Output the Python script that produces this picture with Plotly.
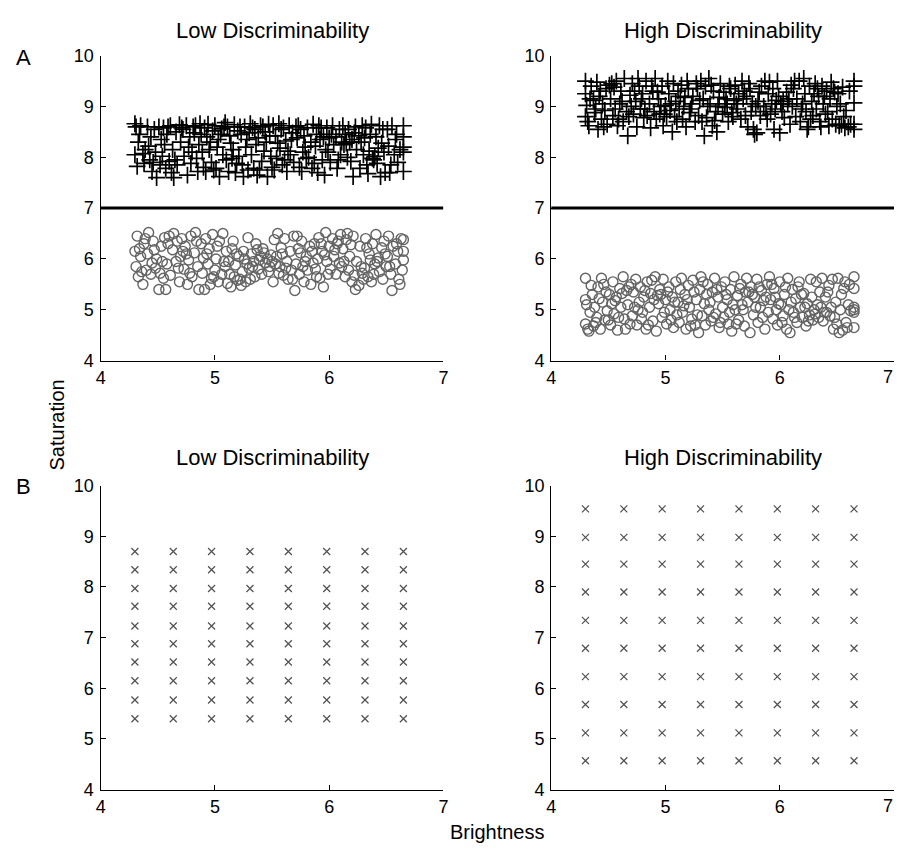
import itertools
import plotly.graph_objects as go

# ---------------- data ----------------
x_ticks = [4, 5, 6, 7]
y_ticks = [4, 5, 6, 7, 8, 9, 10]
x_range = [4, 7]
y_range = [4, 10]
category_boundary = 7.0

titles = ["Low Discriminability", "High Discriminability",
          "Low Discriminability", "High Discriminability"]
panel_labels = ["A", "B"]
x_title = "Brightness"
y_title = "Saturation"

# Panel A, low discriminability: category "+" (high saturation)
low_plus_x = [
    4.30, 4.31, 4.30, 4.32, 4.35, 4.37, 4.38, 4.41, 4.42, 4.43, 4.45, 4.47, 4.48, 4.49, 4.33, 4.44,
    4.51, 4.52, 4.54, 4.55, 4.57, 4.58, 4.60, 4.61, 4.63, 4.64, 4.66, 4.67, 4.69, 4.70, 4.56, 4.62,
    4.72, 4.73, 4.75, 4.76, 4.78, 4.79, 4.81, 4.82, 4.84, 4.85, 4.87, 4.88, 4.90, 4.80, 4.86,
    4.91, 4.92, 4.94, 4.95, 4.97, 4.98, 5.00, 5.01, 5.03, 5.04, 5.06, 5.07, 5.09, 5.10, 4.96, 5.05,
    5.11, 5.12, 5.14, 5.15, 5.17, 5.18, 5.20, 5.21, 5.23, 5.24, 5.26, 5.27, 5.29, 5.30, 5.16, 5.25,
    5.31, 5.32, 5.34, 5.35, 5.37, 5.38, 5.40, 5.41, 5.43, 5.44, 5.46, 5.47, 5.49, 5.50, 5.36, 5.45,
    5.51, 5.53, 5.54, 5.56, 5.57, 5.59, 5.60, 5.62, 5.63, 5.65, 5.66, 5.68, 5.69, 5.55, 5.64,
    5.71, 5.72, 5.74, 5.75, 5.76, 5.78, 5.79, 5.81, 5.82, 5.84, 5.86, 5.87, 5.89, 5.90, 5.77,
    5.91, 5.92, 5.94, 5.95, 5.97, 5.98, 6.00, 6.01, 6.03, 6.04, 6.06, 6.07, 6.09, 6.10, 5.96,
    6.11, 6.12, 6.13, 6.15, 6.16, 6.17, 6.19, 6.20, 6.21, 6.23, 6.24, 6.26, 6.27, 6.29, 6.30,
    6.31, 6.32, 6.34, 6.35, 6.37, 6.38, 6.39, 6.40, 6.41, 6.42, 6.44, 6.45, 6.46, 6.48, 6.49, 6.36,
    6.51, 6.52, 6.54, 6.55, 6.57, 6.58, 6.60, 6.62, 6.65, 6.65, 6.65, 6.65, 6.65,
    4.34, 4.39, 4.46, 4.53, 4.59, 4.65, 4.71, 4.77, 4.83, 4.89, 4.93, 4.99, 5.02, 5.08, 5.13,
    5.19, 5.22, 5.28, 5.33, 5.39, 5.42, 5.48, 5.52, 5.58, 5.61, 5.67, 5.73, 5.80, 5.85, 5.88,
    5.93, 5.99, 6.02, 6.08, 6.14, 6.18, 6.22, 6.28, 6.33, 6.43, 6.47, 6.53, 6.59,
]
low_plus_y = [
    8.66, 8.60, 8.05, 7.82, 8.62, 8.07, 7.88, 8.60, 8.22, 7.95, 7.72, 8.55, 8.10, 7.60, 8.30, 8.40,
    8.60, 7.85, 8.02, 8.58, 7.78, 8.45, 7.92, 8.62, 8.15, 7.60, 8.50, 7.85, 8.64, 8.30, 8.25, 7.70,
    8.55, 8.02, 8.62, 7.65, 8.40, 7.88, 8.60, 8.48, 7.98, 7.72, 8.66, 8.45, 7.80, 8.10, 8.25,
    8.58, 7.72, 8.65, 8.15, 7.90, 8.52, 8.62, 7.78, 8.35, 7.62, 8.56, 8.05, 8.68, 7.95, 8.30, 8.45,
    8.60, 7.72, 8.28, 7.98, 8.64, 7.70, 8.52, 8.02, 8.45, 7.85, 8.60, 8.20, 7.75, 8.48, 8.15, 7.62,
    8.66, 8.05, 7.78, 8.55, 7.65, 8.38, 8.62, 7.92, 8.12, 8.50, 7.62, 8.65, 8.02, 7.80, 8.25, 8.30,
    8.62, 8.42, 7.98, 8.66, 8.18, 7.85, 8.58, 8.32, 7.72, 8.62, 8.05, 8.48, 7.90, 8.28, 8.12,
    8.60, 8.38, 7.80, 8.55, 7.72, 8.42, 8.20, 8.58, 8.00, 8.30, 8.65, 7.88, 8.45, 7.70, 8.10,
    8.62, 8.35, 7.95, 8.40, 8.15, 8.58, 8.38, 7.90, 8.62, 8.25, 8.40, 7.78, 8.55, 8.05, 7.65,
    8.30, 8.62, 8.25, 8.28, 8.00, 8.55, 7.92, 8.35, 7.62, 8.60, 8.15, 8.42, 7.78, 8.62, 8.05,
    8.38, 8.58, 7.68, 8.12, 8.65, 7.98, 7.95, 8.02, 8.40, 7.88, 8.62, 7.62, 8.28, 8.10, 7.70, 8.45,
    8.55, 8.22, 7.85, 8.62, 8.05, 8.35, 7.90, 8.15, 8.62, 8.40, 8.20, 8.10, 7.72,
    8.45, 8.15, 7.90, 8.35, 8.60, 7.95, 8.58, 8.20, 8.62, 8.10, 8.40, 7.75, 8.20, 8.60, 8.42,
    7.88, 8.60, 8.35, 8.58, 7.75, 8.60, 8.42, 7.75, 8.55, 7.95, 8.35, 8.62, 7.98, 7.78, 8.22,
    8.58, 8.10, 8.45, 7.95, 8.45, 8.30, 8.48, 8.30, 7.85, 8.18, 8.55, 7.70, 8.45,
]

# Panel A, low discriminability: category "o" (low saturation)
low_circ_x = [
    4.30, 4.31, 4.32, 4.33, 4.34, 4.35, 4.37, 4.38, 4.40, 4.41, 4.42, 4.44, 4.45, 4.46, 4.48, 4.49,
    4.51, 4.52, 4.53, 4.55, 4.57, 4.58, 4.60, 4.61, 4.63, 4.64, 4.66, 4.67, 4.69, 4.70, 4.56,
    4.71, 4.73, 4.74, 4.76, 4.77, 4.79, 4.80, 4.82, 4.83, 4.85, 4.86, 4.88, 4.89, 4.90, 4.75,
    4.91, 4.92, 4.94, 4.95, 4.97, 4.98, 5.00, 5.01, 5.03, 5.04, 5.06, 5.07, 5.09, 5.10, 4.96,
    5.11, 5.12, 5.14, 5.15, 5.17, 5.18, 5.20, 5.21, 5.23, 5.24, 5.26, 5.27, 5.29, 5.30, 5.16, 5.25,
    5.31, 5.32, 5.34, 5.35, 5.37, 5.38, 5.40, 5.41, 5.43, 5.44, 5.46, 5.47, 5.49, 5.50, 5.36,
    5.51, 5.52, 5.54, 5.55, 5.57, 5.58, 5.60, 5.61, 5.63, 5.64, 5.66, 5.67, 5.69, 5.70, 5.56,
    5.71, 5.72, 5.74, 5.75, 5.77, 5.78, 5.80, 5.81, 5.83, 5.84, 5.86, 5.87, 5.89, 5.90, 5.76,
    5.91, 5.92, 5.94, 5.95, 5.97, 5.98, 6.00, 6.01, 6.03, 6.04, 6.06, 6.07, 6.09, 6.10, 5.96,
    6.11, 6.12, 6.14, 6.15, 6.17, 6.18, 6.20, 6.21, 6.23, 6.24, 6.26, 6.27, 6.29, 6.30, 6.16,
    6.31, 6.32, 6.34, 6.35, 6.37, 6.38, 6.40, 6.41, 6.43, 6.44, 6.46, 6.47, 6.49, 6.50, 6.36,
    6.51, 6.52, 6.54, 6.55, 6.56, 6.58, 6.60, 6.61, 6.63, 6.64, 6.65, 6.65, 6.65,
    4.36, 4.39, 4.47, 4.54, 4.59, 4.68, 4.72, 4.78, 4.84, 4.93, 4.99, 5.02, 5.08, 5.13, 5.19,
    5.22, 5.28, 5.33, 5.39, 5.42, 5.48, 5.53, 5.59, 5.62, 5.68, 5.73, 5.79, 5.85, 5.88, 5.93,
    5.99, 6.05, 6.08, 6.13, 6.19, 6.22, 6.28, 6.33, 6.39, 6.42, 6.48, 6.53, 6.59, 6.62,
]
low_circ_y = [
    6.15, 5.85, 6.45, 5.65, 6.20, 6.05, 5.50, 6.30, 5.78, 6.10, 6.52, 5.70, 5.92, 6.35, 5.82, 6.00,
    5.40, 5.72, 6.25, 5.62, 5.40, 5.90, 6.45, 5.68, 6.18, 6.50, 5.95, 6.35, 5.55, 6.05, 6.42,
    6.40, 5.80, 6.25, 5.50, 5.98, 6.45, 5.65, 6.12, 6.52, 5.85, 5.40, 6.30, 5.72, 6.02, 6.10,
    5.40, 6.40, 5.90, 6.20, 5.62, 6.48, 5.78, 6.00, 5.55, 6.35, 5.70, 6.50, 5.85, 6.15, 5.50,
    5.52, 5.95, 5.45, 6.20, 5.65, 5.88, 5.58, 6.05, 5.48, 5.75, 6.00, 5.55, 6.42, 5.82, 6.35, 6.15,
    5.60, 6.10, 5.95, 5.65, 6.18, 5.80, 6.05, 5.70, 6.12, 5.92, 6.00, 5.75, 6.08, 5.95, 6.30,
    5.55, 6.38, 6.05, 6.50, 5.85, 6.22, 5.68, 6.40, 5.95, 5.60, 6.15, 5.78, 6.45, 5.38, 5.72,
    5.90, 6.45, 5.70, 6.12, 5.85, 5.55, 6.05, 5.78, 6.25, 5.50, 5.92, 6.30, 5.65, 6.00, 6.35,
    6.42, 5.62, 6.15, 5.45, 6.52, 5.95, 6.25, 5.80, 6.40, 6.05, 5.70, 6.30, 5.92, 6.48, 6.08,
    5.85, 6.20, 5.65, 6.38, 5.78, 6.05, 5.55, 6.45, 5.40, 5.95, 5.48, 6.25, 5.72, 5.60, 6.50,
    5.82, 6.40, 5.65, 6.10, 5.55, 6.30, 5.90, 6.48, 6.02, 5.75, 6.22, 5.60, 6.10, 5.85, 5.98,
    6.05, 6.45, 5.70, 5.38, 6.25, 5.90, 6.15, 5.60, 6.40, 5.78, 6.15, 5.98, 6.38,
    5.75, 6.40, 6.18, 5.95, 6.30, 5.82, 6.15, 5.72, 6.35, 6.10, 5.65, 6.25, 5.95, 5.70, 6.10,
    5.60, 5.90, 5.85, 5.98, 6.20, 5.85, 5.90, 6.10, 5.82, 5.60, 6.20, 5.95, 6.15, 5.80, 6.30,
    5.70, 6.18, 6.35, 5.95, 6.28, 5.68, 5.85, 6.22, 5.70, 5.95, 6.35, 5.85, 6.30, 5.50,
]

# Panel A, high discriminability: category "+"
high_plus_x = [
    4.30, 4.30, 4.31, 4.30, 4.32, 4.33, 4.35, 4.37, 4.38, 4.40, 4.41, 4.43, 4.44, 4.45, 4.47, 4.48, 4.49,
    4.51, 4.52, 4.54, 4.55, 4.57, 4.58, 4.60, 4.61, 4.63, 4.64, 4.66, 4.67, 4.69, 4.70, 4.56,
    4.71, 4.72, 4.74, 4.75, 4.77, 4.78, 4.80, 4.81, 4.83, 4.84, 4.86, 4.87, 4.89, 4.90, 4.76,
    4.91, 4.92, 4.94, 4.95, 4.97, 4.98, 5.00, 5.01, 5.03, 5.04, 5.06, 5.07, 5.09, 5.10, 4.96,
    5.11, 5.12, 5.14, 5.15, 5.17, 5.18, 5.20, 5.21, 5.23, 5.24, 5.26, 5.27, 5.29, 5.30, 5.16,
    5.31, 5.32, 5.34, 5.35, 5.36, 5.38, 5.39, 5.41, 5.42, 5.44, 5.45, 5.47, 5.48, 5.50, 5.37,
    5.51, 5.52, 5.54, 5.55, 5.57, 5.58, 5.60, 5.61, 5.63, 5.64, 5.66, 5.67, 5.69, 5.70, 5.56,
    5.71, 5.72, 5.74, 5.75, 5.77, 5.78, 5.80, 5.81, 5.83, 5.84, 5.86, 5.87, 5.89, 5.90, 5.76,
    5.91, 5.92, 5.94, 5.95, 5.97, 5.98, 6.00, 6.01, 6.03, 6.04, 6.06, 6.07, 6.09, 6.10, 5.96,
    6.11, 6.12, 6.14, 6.15, 6.17, 6.18, 6.20, 6.21, 6.23, 6.24, 6.25, 6.26, 6.28, 6.29, 6.30,
    6.31, 6.32, 6.34, 6.35, 6.37, 6.38, 6.40, 6.41, 6.43, 6.44, 6.46, 6.47, 6.49, 6.50, 6.36,
    6.51, 6.52, 6.54, 6.55, 6.57, 6.58, 6.60, 6.62, 6.65, 6.65, 6.65, 6.65, 6.65,
    4.34, 4.39, 4.42, 4.46, 4.53, 4.59, 4.62, 4.68, 4.73, 4.79, 4.82, 4.88, 4.93, 4.99, 5.02,
    5.05, 5.08, 5.13, 5.19, 5.22, 5.28, 5.33, 5.40, 5.43, 5.46, 5.53, 5.59, 5.62, 5.68, 5.73,
    5.79, 5.82, 5.88, 5.93, 5.99, 6.02, 6.08, 6.13, 6.19, 6.22, 6.27, 6.33, 6.39, 6.42, 6.45,
    6.48, 6.53, 6.56, 6.61,
]
high_plus_y = [
    9.50, 9.25, 9.02, 8.80, 8.70, 8.62, 9.40, 9.12, 8.88, 9.48, 8.55, 9.30, 8.75, 9.05, 8.92, 9.35, 8.65,
    9.42, 9.15, 8.82, 9.38, 9.50, 8.62, 9.05, 9.30, 8.70, 9.55, 8.90, 8.42, 9.22, 9.00, 8.95,
    9.45, 8.85, 9.10, 8.60, 9.40, 8.95, 9.25, 8.78, 9.50, 8.82, 9.05, 8.58, 9.30, 8.90, 9.55,
    9.55, 8.75, 9.15, 8.85, 9.40, 8.62, 9.02, 8.80, 9.25, 8.92, 8.50, 9.45, 9.10, 8.70, 9.00,
    9.30, 8.95, 9.42, 8.75, 9.18, 8.60, 9.35, 8.88, 9.05, 9.20, 8.70, 9.45, 8.82, 9.12, 9.00,
    9.50, 8.70, 8.42, 9.40, 8.78, 9.55, 9.05, 8.62, 9.30, 8.90, 8.50, 9.18, 9.45, 8.85, 9.00,
    9.28, 8.98, 9.05, 8.70, 9.35, 8.88, 9.12, 9.42, 8.95, 9.25, 8.75, 9.50, 9.30, 8.82, 9.40,
    9.20, 8.60, 9.35, 8.90, 8.55, 8.45, 8.48, 9.10, 8.82, 9.40, 9.00, 9.50, 8.75, 9.25, 9.05,
    9.48, 8.85, 9.35, 8.55, 9.12, 9.50, 8.48, 9.05, 9.10, 8.78, 9.28, 9.05, 8.65, 9.42, 8.95,
    9.00, 9.35, 8.80, 9.15, 9.50, 8.70, 9.05, 9.55, 8.90, 8.55, 8.60, 9.40, 9.10, 8.82, 9.25,
    9.45, 8.95, 9.20, 8.70, 9.40, 9.05, 8.85, 9.30, 8.62, 9.15, 8.75, 9.35, 8.65, 9.00, 8.60,
    9.25, 8.62, 8.65, 9.38, 8.58, 8.92, 8.60, 8.65, 9.50, 9.40, 9.07, 8.65, 8.55,
    9.15, 8.95, 9.20, 8.60, 9.45, 8.75, 9.10, 8.80, 9.30, 9.15, 8.95, 9.40, 9.28, 8.85, 9.50,
    9.05, 8.80, 9.20, 9.50, 8.95, 9.35, 9.15, 9.42, 8.72, 9.00, 9.15, 8.80, 9.05, 9.15, 9.45,
    9.00, 9.28, 8.90, 9.05, 9.20, 8.90, 9.15, 9.50, 8.95, 9.25, 8.75, 9.35, 9.20, 8.90, 9.48,
    9.28, 9.05, 8.80, 9.30,
]

# Panel A, high discriminability: category "o"
high_circ_x = [
    4.30, 4.30, 4.31, 4.30, 4.32, 4.33, 4.34, 4.36, 4.37, 4.38, 4.40, 4.41, 4.43, 4.44, 4.45, 4.47, 4.48, 4.49,
    4.51, 4.52, 4.54, 4.55, 4.57, 4.58, 4.60, 4.61, 4.63, 4.64, 4.66, 4.67, 4.69, 4.70, 4.56,
    4.71, 4.72, 4.74, 4.75, 4.77, 4.78, 4.80, 4.81, 4.83, 4.84, 4.86, 4.87, 4.89, 4.90, 4.76,
    4.91, 4.92, 4.94, 4.95, 4.97, 4.98, 5.00, 5.01, 5.03, 5.04, 5.06, 5.07, 5.09, 5.10, 4.96,
    5.11, 5.12, 5.14, 5.15, 5.17, 5.18, 5.20, 5.21, 5.23, 5.24, 5.26, 5.27, 5.29, 5.30, 5.16,
    5.31, 5.32, 5.34, 5.35, 5.37, 5.38, 5.40, 5.41, 5.43, 5.44, 5.46, 5.47, 5.49, 5.50, 5.36,
    5.51, 5.52, 5.54, 5.55, 5.57, 5.58, 5.60, 5.61, 5.63, 5.64, 5.66, 5.67, 5.69, 5.70, 5.56,
    5.71, 5.72, 5.74, 5.75, 5.77, 5.78, 5.80, 5.81, 5.83, 5.84, 5.86, 5.87, 5.89, 5.90, 5.76,
    5.91, 5.92, 5.94, 5.95, 5.97, 5.98, 6.00, 6.01, 6.03, 6.04, 6.06, 6.07, 6.09, 6.10, 5.96,
    6.11, 6.12, 6.14, 6.15, 6.17, 6.18, 6.20, 6.21, 6.23, 6.24, 6.26, 6.27, 6.29, 6.30, 6.16,
    6.31, 6.32, 6.34, 6.35, 6.37, 6.38, 6.40, 6.41, 6.43, 6.44, 6.46, 6.47, 6.49, 6.50, 6.36,
    6.51, 6.52, 6.54, 6.55, 6.57, 6.58, 6.60, 6.62, 6.65, 6.65, 6.65, 6.65, 6.65, 6.65,
    4.35, 4.39, 4.42, 4.46, 4.50, 4.53, 4.59, 4.62, 4.65, 4.68, 4.73, 4.79, 4.82, 4.85, 4.88,
    4.93, 4.99, 5.02, 5.05, 5.08, 5.13, 5.19, 5.22, 5.25, 5.28, 5.33, 5.39, 5.42, 5.45, 5.48,
    5.53, 5.59, 5.62, 5.65, 5.68, 5.73, 5.79, 5.82, 5.85, 5.88, 5.93, 5.99, 6.02, 6.05, 6.08,
    6.13, 6.19, 6.22, 6.25, 6.28, 6.33, 6.39, 6.42, 6.45, 6.48, 6.53, 6.56, 6.59, 6.61,
]
high_circ_y = [
    5.62, 5.20, 5.10, 4.72, 4.62, 4.58, 4.95, 5.30, 4.68, 5.05, 4.85, 5.45, 4.62, 5.62, 5.15, 4.80, 5.35, 4.98,
    5.30, 4.70, 5.55, 4.92, 5.25, 4.60, 5.42, 5.05, 5.65, 4.82, 5.38, 5.10, 4.72, 5.50, 5.18,
    4.88, 5.35, 5.60, 4.70, 5.15, 5.45, 4.95, 5.25, 4.62, 5.55, 5.05, 5.32, 4.78, 5.20, 5.00,
    5.65, 4.58, 5.12, 5.40, 4.85, 5.60, 5.20, 4.72, 5.45, 5.00, 5.25, 4.65, 5.55, 4.90, 5.30,
    5.15, 4.75, 5.62, 4.95, 5.30, 4.62, 5.48, 5.05, 4.82, 5.58, 4.70, 5.20, 4.55, 5.40, 5.08,
    5.65, 4.88, 5.12, 4.70, 5.50, 5.00, 4.78, 5.35, 5.62, 4.92, 5.25, 4.65, 5.45, 5.05, 5.30,
    4.85, 5.55, 5.20, 4.72, 5.40, 4.58, 5.65, 5.00, 5.28, 4.80, 5.50, 5.10, 4.68, 5.35, 4.95,
    5.62, 5.15, 4.55, 5.45, 4.90, 5.25, 5.60, 4.75, 5.05, 5.38, 5.18, 4.62, 5.50, 4.95, 5.30,
    5.65, 5.20, 4.82, 5.42, 5.00, 4.70, 5.55, 5.10, 4.88, 5.30, 4.62, 5.62, 4.55, 5.15, 5.25,
    5.40, 4.95, 5.22, 4.75, 5.55, 5.05, 4.85, 5.32, 4.68, 5.12, 4.90, 5.60, 4.80, 5.00, 5.45,
    4.92, 5.55, 4.85, 5.35, 5.62, 4.78, 5.25, 4.95, 5.48, 4.88, 5.60, 4.62, 5.15, 4.72, 5.05,
    5.62, 4.55, 5.30, 4.60, 5.55, 4.75, 5.10, 4.98, 5.65, 5.42, 5.05, 5.00, 4.95, 4.65,
    5.48, 4.75, 5.22, 5.50, 4.80, 5.12, 4.85, 5.32, 4.62, 5.45, 5.05, 4.82, 5.38, 4.70, 5.58,
    5.28, 4.95, 5.35, 4.80, 5.15, 5.40, 5.20, 4.68, 5.35, 4.90, 5.55, 5.15, 4.85, 5.40, 4.75,
    5.30, 5.10, 4.72, 5.42, 5.00, 5.35, 5.05, 5.45, 4.85, 5.25, 5.50, 5.12, 4.75, 5.45, 5.00,
    4.85, 5.30, 5.05, 4.78, 5.25, 5.10, 4.95, 5.35, 5.05, 4.85, 5.00, 5.42, 4.65, 5.50,
]

# Panel B: test-grid levels
grid_brightness = [4.30, 4.636, 4.971, 5.307, 5.643, 5.979, 6.314, 6.65]
grid_sat_low = [5.40, 5.77, 6.15, 6.52, 6.88, 7.23, 7.62, 7.97, 8.34, 8.70]
grid_sat_high = [4.57, 5.12, 5.68, 6.23, 6.79, 7.34, 7.90, 8.45, 8.98, 9.54]

# ---------------- layout constants ----------------
W, H = 901, 857
FONT = "Liberation Sans, Arial, Helvetica, sans-serif"
px_x = {"L": (96.7, 443.3), "R": (552.3, 899.0)}
px_y = {"T": (46.7, 359.0), "B": (487.0, 798.3)}


def dom_x(k):
    a, b = px_x[k]
    return [a / W, b / W]


def dom_y(k):
    a, b = px_y[k]
    return [1 - b / H, 1 - a / H]


fig = go.Figure()

panels = [("x", "y", "L", "T"), ("x2", "y2", "R", "T"),
          ("x3", "y3", "L", "B"), ("x4", "y4", "R", "B")]

plus_style = dict(symbol="cross-thin", size=12, line=dict(color="black", width=1.7))
circ_style = dict(symbol="circle-open", size=10, color="#636363", line=dict(color="#636363", width=1.4))
x_style = dict(symbol="x-thin", size=7, line=dict(color="#505050", width=1.2))

# Panel A traces
for (xa, ya, _, _), px_, py_, cx_, cy_ in [
    (panels[0], low_plus_x, low_plus_y, low_circ_x, low_circ_y),
    (panels[1], high_plus_x, high_plus_y, high_circ_x, high_circ_y),
]:
    fig.add_trace(go.Scatter(x=cx_, y=cy_, mode="markers", marker=circ_style,
                             xaxis=xa, yaxis=ya, showlegend=False, hoverinfo="skip"))
    fig.add_trace(go.Scatter(x=px_, y=py_, mode="markers", marker=plus_style,
                             xaxis=xa, yaxis=ya, showlegend=False, hoverinfo="skip"))
    fig.add_trace(go.Scatter(x=x_range, y=[category_boundary, category_boundary], mode="lines",
                             line=dict(color="black", width=3), xaxis=xa, yaxis=ya,
                             showlegend=False, hoverinfo="skip"))

# Panel B traces
for (xa, ya, _, _), levels in [(panels[2], grid_sat_low), (panels[3], grid_sat_high)]:
    pts = list(itertools.product(grid_brightness, levels))
    fig.add_trace(go.Scatter(x=[p[0] for p in pts], y=[p[1] for p in pts], mode="markers",
                             marker=x_style, xaxis=xa, yaxis=ya, showlegend=False,
                             hoverinfo="skip"))

tick_font = dict(family=FONT, size=18, color="black")
axis_common = dict(showline=True, linecolor="black", linewidth=1.3, ticks="inside",
                   ticklen=5, tickwidth=1.3, tickcolor="black", showgrid=False,
                   zeroline=False, tickfont=tick_font, fixedrange=True)

layout = dict(width=W, height=H, margin=dict(l=0, r=0, t=0, b=0),
              paper_bgcolor="white", plot_bgcolor="white", showlegend=False)
x_labels = [str(v) for v in x_ticks]
for i, (xa, ya, kx, ky) in enumerate(panels):
    xname = "xaxis" + xa[1:]
    yname = "yaxis" + ya[1:]
    # right-hand panels reach the page edge: their last tick label is drawn as an
    # annotation (right-aligned on the tick) so that it stays fully visible
    ttext = x_labels if kx == "L" else x_labels[:-1] + [""]
    layout[xname] = dict(axis_common, domain=dom_x(kx), range=x_range, tickvals=x_ticks,
                         ticktext=ttext, anchor=ya, ticklabelstandoff=1)
    layout[yname] = dict(axis_common, domain=dom_y(ky), range=y_range, tickvals=y_ticks,
                         anchor=xa, ticklabelstandoff=2)
fig.update_layout(**layout)

ann = []
cx_l = sum(px_x["L"]) / 2
cx_r = sum(px_x["R"]) / 2
title_pos = [(cx_l, 21), (cx_r, 21), (cx_l, 458), (cx_r, 458)]
for t, (cx, cy) in zip(titles, title_pos):
    ann.append(dict(text=t, x=cx / W, y=1 - cy / H, xref="paper", yref="paper",
                    xanchor="center", yanchor="middle", showarrow=False,
                    font=dict(family=FONT, size=22, color="black")))
for t, (cx, cy) in zip(panel_labels, [(19, 49), (19, 488)]):
    ann.append(dict(text=t, x=cx / W, y=1 - cy / H, xref="paper", yref="paper",
                    xanchor="center", yanchor="middle", showarrow=False,
                    font=dict(family=FONT, size=22, color="black")))
for xa, ky in [("x2", "T"), ("x4", "B")]:
    axis_px = px_y[ky][1]
    ann.append(dict(text=x_labels[-1], x=x_ticks[-1], xref=xa, y=1 - (axis_px + 5) / H,
                    yref="paper", xanchor="right", yanchor="top", showarrow=False,
                    font=tick_font, borderpad=0))
ann.append(dict(text=y_title, x=53 / W, y=1 - 425 / H, xref="paper", yref="paper",
                xanchor="center", yanchor="middle", showarrow=False, textangle=-90,
                font=dict(family=FONT, size=20, color="black")))
ann.append(dict(text=x_title, x=498 / W, y=1 - 842 / H, xref="paper", yref="paper",
                xanchor="center", yanchor="middle", showarrow=False,
                font=dict(family=FONT, size=20, color="black")))
fig.update_layout(annotations=ann)

# the page body's default 8px margin would push the figure past the window edge
fig.write_html("out.html", config={"displayModeBar": False},
               post_script="document.body.style.margin='0';document.body.style.overflow='hidden';")
